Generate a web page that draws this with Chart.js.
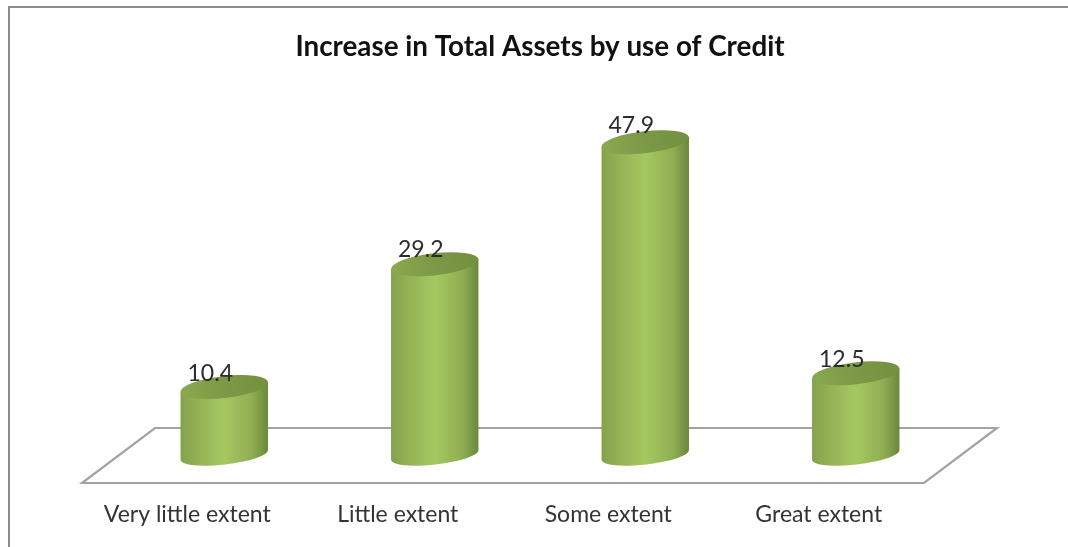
<!DOCTYPE html>
<html>
<head>
<meta charset="utf-8">
<style>
  html, body { margin: 0; padding: 0; background: #fff; overflow: hidden; }
  #wrap { position: relative; width: 1068px; height: 547px; }
</style>
<script src="https://cdn.jsdelivr.net/npm/chart.js@4/dist/chart.umd.min.js"></script>
</head>
<body>
<div id="wrap"><canvas id="chart" width="1068" height="547"></canvas></div>
<script>
const chartTitle = 'Increase in Total Assets by use of Credit';
const categories = ['Very little extent', 'Little extent', 'Some extent', 'Great extent'];
const percentages = [10.4, 29.2, 47.9, 12.5];

const TILT = -6.5 * Math.PI / 180;
const TOP_RY = 11;
const BASE_RY = 9.5;

// Outer frame: only the top and left rules are drawn.
const framePlugin = {
  id: 'frame',
  beforeDraw(chart) {
    const c = chart.ctx;
    c.save();
    c.strokeStyle = '#8c8c8c';
    c.lineWidth = 2;
    c.beginPath();
    c.moveTo(9, 547);
    c.lineTo(9, 7);
    c.lineTo(1068, 7);
    c.stroke();
    c.restore();
  }
};

// Floor parallelogram around the zero line of the value axis.
const floorPlugin = {
  id: 'floor',
  beforeDatasetsDraw(chart) {
    const c = chart.ctx;
    const { x, y } = chart.scales;
    const zero = y.getPixelForValue(0);
    c.save();
    c.strokeStyle = '#a3a3a3';
    c.lineWidth = 2.2;
    c.lineJoin = 'miter';
    c.beginPath();
    c.moveTo(x.left - 37, zero + 28);
    c.lineTo(x.left + 36, zero - 27);
    c.lineTo(x.right + 36, zero - 27);
    c.lineTo(x.right - 37, zero + 28);
    c.closePath();
    c.stroke();
    c.restore();
  }
};

// Each bar element is painted as a tilted cylinder.
const cylinderPlugin = {
  id: 'cylinder',
  afterDatasetsDraw(chart) {
    const c = chart.ctx;
    const yScale = chart.scales.y;
    chart.getDatasetMeta(0).data.forEach((bar, i) => {
      const rx = bar.width / 2;
      const dx = rx * Math.cos(TILT);
      const dy = rx * Math.sin(TILT);
      const left = bar.x - dx;
      const right = bar.x + dx;

      const side = c.createLinearGradient(left, 0, right, 0);
      side.addColorStop(0, '#83a24b');
      side.addColorStop(0.12, '#8dac52');
      side.addColorStop(0.5, '#a6c861');
      side.addColorStop(0.82, '#8fae52');
      side.addColorStop(1, '#6a873c');

      c.save();
      c.fillStyle = side;
      c.beginPath();
      c.moveTo(left, bar.y - dy);
      c.lineTo(left, bar.base - dy);
      c.ellipse(bar.x, bar.base, rx, BASE_RY, TILT, Math.PI, 0, true);
      c.lineTo(right, bar.y + dy);
      c.closePath();
      c.fill();

      const cap = c.createLinearGradient(left, bar.y + TOP_RY, right, bar.y - TOP_RY);
      cap.addColorStop(0, '#8aa94f');
      cap.addColorStop(0.55, '#7a9845');
      cap.addColorStop(1, '#72903f');
      c.fillStyle = cap;
      c.beginPath();
      c.ellipse(bar.x, bar.y, rx, TOP_RY, TILT, 0, Math.PI * 2);
      c.fill();

      // Value label, slightly left of the cylinder's axis and overlapping its cap.
      c.fillStyle = '#2b2b2b';
      c.font = '23px Lato, sans-serif';
      c.textAlign = 'center';
      c.textBaseline = 'middle';
      const v = percentages[i];
      c.fillText(v.toFixed(1), bar.x - 14, yScale.getPixelForValue(v * 1.01) - 13);
      c.restore();
    });
  }
};

new Chart(document.getElementById('chart'), {
  type: 'bar',
  data: {
    labels: categories,
    datasets: [{
      label: 'Increase in Total Assets',
      data: percentages,
      backgroundColor: 'rgba(0,0,0,0)',
      borderWidth: 0,
      barPercentage: 0.418,
      categoryPercentage: 1
    }]
  },
  options: {
    responsive: false,
    animation: false,
    events: [],
    layout: { padding: { left: 119, right: 107, top: 0, bottom: 20 } },
    plugins: {
      legend: { display: false },
      tooltip: { enabled: false },
      title: {
        display: true,
        text: chartTitle,
        color: '#111',
        font: { family: 'Lato, sans-serif', size: 27.8, weight: 'bold', lineHeight: 1.2 },
        padding: { top: 30, bottom: 5 }
      }
    },
    scales: {
      x: {
        afterFit(scale) { scale.height = 72; },
        grid: { display: false },
        border: { display: false },
        ticks: {
          color: '#333',
          font: { family: 'Lato, sans-serif', size: 23 },
          padding: 38,
          labelOffset: -37,
          autoSkip: false,
          maxRotation: 0
        }
      },
      y: { display: false, min: 0, max: 59.2 }
    }
  },
  plugins: [framePlugin, floorPlugin, cylinderPlugin]
});
</script>
</body>
</html>
